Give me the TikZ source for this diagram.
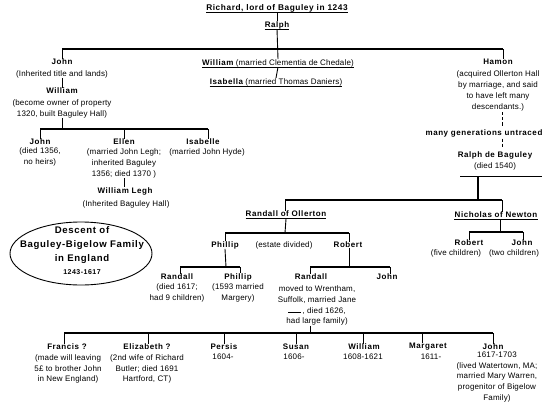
\documentclass[tikz,border=0pt]{standalone}
\usepackage{fontspec}
\usetikzlibrary{shapes.geometric}
\setmainfont[LetterSpace=2]{Liberation Sans}
\newfontfamily\nmfont[LetterSpace=7]{Liberation Sans}
\newcommand\nmb[1]{{\nmfont\bfseries #1}}
\begin{document}
\begin{tikzpicture}[x=1pt,y=-1pt,
  nm/.style={inner sep=0, font=\nmfont\bfseries\fontsize{8}{10}\selectfont},
  tx/.style={inner sep=0, align=center, font=\fontsize{8}{10.9}\selectfont},
  ln/.style={line width=0.9pt},
  bar/.style={line width=1.3pt},
  dsh/.style={line width=1pt, dash pattern=on 3.2pt off 2pt}]
\useasboundingbox (0,0) rectangle (549,402);
\newcommand\ulnode[1]{\draw[ln] ([yshift=-2pt]#1.base west) -- ([yshift=-2pt]#1.base east);}

% ---------- top ----------
\node[nm, font=\nmfont\bfseries\fontsize{8.3}{10}\selectfont] (rich) at (277,8) {Richard, lord of Baguley in 1243};
\ulnode{rich}
\node[nm] (ralph) at (277,25) {Ralph};
\ulnode{ralph}
\draw[ln] ([yshift=-2pt]rich.base) -- (ralph.north);
\node[tx] (wil) at (278,63) {\nmb{William} (married Clementia de Chedale)};
\ulnode{wil}
\draw[ln] ([yshift=-2pt]ralph.base) -- (wil.north);
\node[tx] (isa) at (276,82) {\nmb{Isabella} (married Thomas Daniers)};
\ulnode{isa}
\draw[ln] ([yshift=-2pt]wil.base) -- (isa.north);
\coordinate (b1l) at (62,49);
\coordinate (b1r) at (503,49);
\draw[bar] (b1l) -- (b1r);

% ---------- left branch ----------
\node[nm] (john1) at (62,62) {John};
\draw[ln] (b1l) -- (john1.north);
\node[tx] (john1t) at (62,74) {(Inherited title and lands)};
\node[nm] (wil2) at (62,91) {William};
\draw[ln] (john1t.south) -- (wil2.north);
\node[tx] (wil2t) at (62,108.5) {(become owner of property\\1320, built Baguley Hall)};
\coordinate (b2m) at (62,129);
\coordinate (b2l) at (40,129);
\coordinate (b2r) at (208,129);
\draw[ln] (wil2t.south) -- (b2m);
\draw[bar] (b2l) -- (b2r);
\node[nm] (john2) at (40,142) {John};
\node[tx] (john2t) at (40,157) {(died 1356,\\no heirs)};
\node[nm] (ellen) at (124,142) {Ellen};
\node[tx] (ellent) at (124,163.5) {(married John Legh;\\inherited Baguley\\1356; died 1370 )};
\node[nm] (isab) at (203,142) {Isabelle};
\node[tx] (isabt) at (207,152) {(married John Hyde)};
\draw[ln] (b2l) -- (john2.north);
\draw[ln] (b2l -| ellen) -- (ellen.north);
\draw[ln] (b2r) -- (b2r |- isab.north);
\node[nm] (wlegh) at (125,191) {William Legh};
\node[tx] (wleght) at (126,204) {(Inherited Baguley Hall)};
\draw[ln] (ellent.south -| ellen) -- (wlegh.north -| ellen);

% ---------- title oval ----------
\node[draw, ellipse, ln, minimum width=142pt, minimum height=63pt, inner sep=0] (oval) at (81,253.5) {};
\node[inner sep=0, align=center, font=\nmfont\bfseries\fontsize{9.6}{14}\selectfont] (title) at (82,245) {Descent of\\Baguley-Bigelow Family\\in England};
\node[nm, font=\nmfont\bfseries\fontsize{7}{9}\selectfont] (tyears) at (82,272) {1243-1617};

% ---------- right branch ----------
\node[nm] (hamon) at (498,62) {Hamon};
\draw[ln] (b1r) -- (b1r |- hamon.north);
\node[tx] (hamont) at (498,91) {(acquired Ollerton Hall\\by marriage, and said\\to have left many\\descendants.)};
\node[nm] (untr) at (484,133) {many generations untraced};
\draw[dsh] (502,112) -- (502 ,127);
\draw[dsh] (502,138.5) -- (502,148);
\node[nm] (ralphdb) at (495,155) {Ralph de Baguley};
\node[tx] (ralphdbt) at (495,166) {(died 1540)};
\coordinate (r1l) at (460,176);
\coordinate (r1r) at (542,176);
\draw[ln] (r1l) -- (r1r);
\coordinate (b3m) at (478,200);
\coordinate (b3l) at (285,200);
\coordinate (b3r) at (502,200);
\draw[bar] (478,176) -- (b3m);
\draw[bar] (b3l) -- (b3r);

\node[nm] (randO) at (286,214) {Randall of Ollerton};
\ulnode{randO}
\node[nm] (nich) at (496,215) {Nicholas of Newton};
\ulnode{nich}
\draw[ln] (b3l) -- (b3l |- randO.north);
\draw[ln] (b3r) -- (b3r |- nich.north);

% Nicholas children
\coordinate (b5l) at (469,232);
\coordinate (b5r) at (523,232);
\draw[ln] ([yshift=-2pt]nich.base -| 500,0) -- (500,232);
\draw[bar] (b5l) -- (b5r);
\node[nm] (robN) at (469,243) {Robert};
\node[tx] (robNt) at (456,253) {(five children)};
\node[nm] (johnN) at (522,243) {John};
\node[tx] (johnNt) at (514,253) {(two children)};
\draw[ln] (b5l) -- (robN.north);
\draw[ln] (b5r) -- (b5r |- johnN.north);

% Randall of Ollerton children
\coordinate (b6l) at (225,233);
\coordinate (b6r) at (349,233);
\draw[ln] ([yshift=-2pt]randO.base) -- (285,233);
\draw[bar] (b6l) -- (b6r);
\node[nm] (phil) at (225,245) {Phillip};
\node[tx] (estate) at (284,245) {(estate divided)};
\node[nm] (robert) at (348,245) {Robert};
\draw[ln] (b6l) -- (phil.north);
\draw[ln] (b6r) -- (b6r |- robert.north);

% Phillip children
\coordinate (b7l) at (180,267);
\coordinate (b7r) at (240,267);
\draw[ln] (phil.south) -- (226,267);
\draw[bar] (b7l) -- (b7r);
\node[nm] (rand2) at (177,277) {Randall};
\node[tx] (rand2t) at (177,293) {(died 1617;\\had 9 children)};
\node[nm] (phil2) at (238,277) {Phillip};
\node[tx] (phil2t) at (238,293) {(1593 married\\Margery)};
\draw[ln] (b7l) -- (b7l |- rand2.north);
\draw[ln] (b7r) -- (b7r |- phil2.north);

% Robert children
\coordinate (b8l) at (310,267);
\coordinate (b8r) at (390,267);
\draw[ln] (robert.south -| b6r) -- (b6r |- b8l);
\draw[bar] (b8l) -- (b8r);
\node[nm] (rand3) at (311,277) {Randall};
\node[tx] (rand3t) at (317,305.5) {moved to Wrentham,\\Suffolk, married Jane\\\rule{13pt}{0.6pt}\,, died 1626,\\had large family)};
\node[nm] (john3) at (387,277) {John};
\draw[ln] (b8l) -- (b8l |- rand3.north);
\draw[ln] (b8r) -- (b8r |- john3.north);

% ---------- bottom row ----------
\coordinate (b9l) at (64,333);
\coordinate (b9r) at (493,333);
\draw[ln] (rand3t.south -| 310,0) -- (310,333);
\draw[bar] (b9l) -- (b9r);
\node[nm] (fran) at (67,347) {Francis ?};
\node[tx] (frant) at (68,369) {(made will leaving\\5£ to brother John\\in New England)};
\node[nm] (eliz) at (147,347) {Elizabeth ?};
\node[tx] (elizt) at (147,369) {(2nd wife of Richard\\Butler; died 1691\\Hartford, CT)};
\node[nm] (pers) at (224,347) {Persis};
\node[tx] (perst) at (223,356.5) {1604-};
\node[nm] (susan) at (296,347) {Susan};
\node[tx] (susant) at (294,356.5) {1606-};
\node[nm] (wil3) at (364,347) {William};
\node[tx] (wil3t) at (363,356.5) {1608-1621};
\node[nm] (marg) at (428,347) {Margaret};
\node[tx] (margt) at (431,356.5) {1611-};
\node[nm] (john4) at (493,347) {John};
\node[tx] (john4t) at (497,377) {1617-1703\\(lived Watertown, MA;\\married Mary Warren,\\progenitor of Bigelow\\Family)};
\foreach \n/\x in {fran/64, eliz/148, pers/224, susan/296, wil3/363, marg/422, john4/493}
  \draw[ln] (\x,333) -- (\x,0 |- \n.north);
\end{tikzpicture}
\end{document}
